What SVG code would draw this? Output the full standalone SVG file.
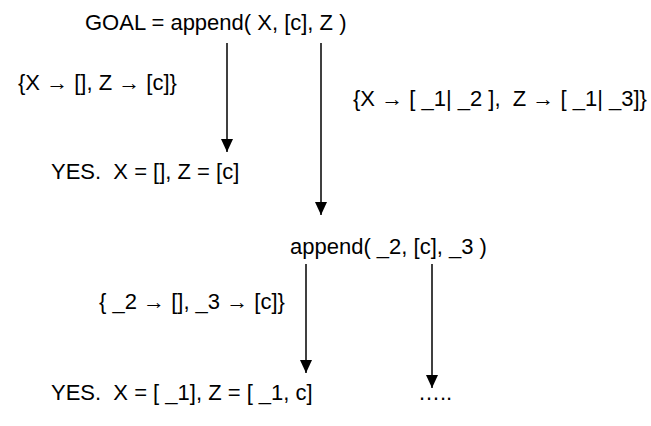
<svg xmlns="http://www.w3.org/2000/svg" width="651" height="426" viewBox="0 0 651 426">
<style>
text{font-family:"Liberation Sans",Arial,sans-serif;font-size:22px;fill:#000;white-space:pre}
.c line{stroke:#000;stroke-width:1.5;fill:none}
</style>
<defs>
<marker id="ah" markerUnits="userSpaceOnUse" markerWidth="13" markerHeight="12" refX="13" refY="6" orient="auto">
<path d="M0,0 L13,6 L0,12 z" fill="#000"/>
</marker>
</defs>
<rect width="651" height="426" fill="#fff"/>
<g id="goal"><text x="85" y="30">GOAL = append( X, [c], Z )</text></g>
<g id="yes1"><text x="51" y="179">YES.  X = [], Z = [c]</text></g>
<g id="sub"><text x="290" y="254">append( _2, [c], _3 )</text></g>
<g id="yes2"><text x="51" y="400">YES.  X = [ _1], Z = [ _1, c]</text></g>
<g id="more"><text x="418" y="400">…..</text></g>
<g class="c" id="connectors">
<line x1="227" y1="43" x2="227" y2="152" marker-end="url(#ah)"/>
<line x1="321" y1="43" x2="321" y2="215" marker-end="url(#ah)"/>
<line x1="306" y1="264" x2="306" y2="373" marker-end="url(#ah)"/>
<line x1="432" y1="264" x2="432" y2="388" marker-end="url(#ah)"/>
<text x="18" y="90">{X → [], Z → [c]}</text>
<text x="353" y="106">{X → [ _1| _2 ],  Z → [ _1| _3]}</text>
<text x="99" y="309">{ _2 → [], _3 → [c]}</text>
</g>
</svg>
